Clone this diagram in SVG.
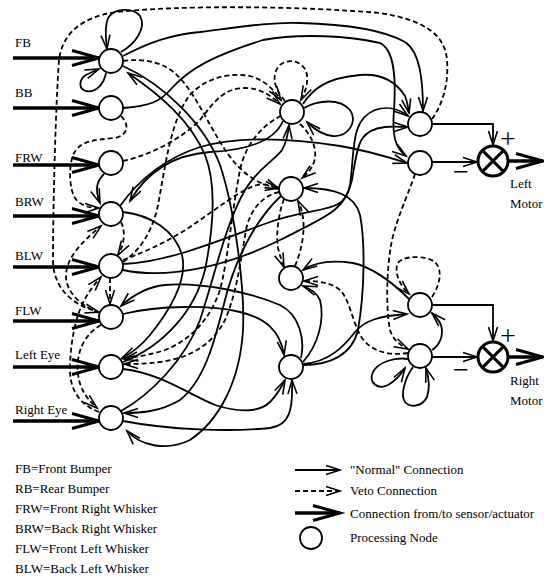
<svg xmlns="http://www.w3.org/2000/svg" width="544" height="580" viewBox="0 0 544 580">
<style>
.c{fill:none;stroke:#000;stroke-width:1.8;marker-end:url(#a)}
.v{stroke-dasharray:5 3}
.t{fill:none;stroke:#000;stroke-width:3.5;marker-end:url(#T)}
.n{fill:#fff;stroke:#000;stroke-width:1.8}
.m{fill:#fff;stroke:#000;stroke-width:3}
text{font-family:"Liberation Serif","Times New Roman",serif;font-size:13px;fill:#000}
.p{font-size:28px}
</style>
<defs>
<marker id="a" markerUnits="userSpaceOnUse" markerWidth="20" markerHeight="14" refX="14" refY="5" orient="auto" overflow="visible"><path d="M0,0.5 L14,5 L0,9.5" fill="none" stroke="#000" stroke-width="1.6"/></marker>
<marker id="T" markerUnits="userSpaceOnUse" markerWidth="30" markerHeight="18" refX="27" refY="8" orient="auto" overflow="visible"><path d="M0,0.5 L27,8 L0,15.5" fill="none" stroke="#000" stroke-width="3"/></marker>
</defs>

<g id="connectors">
<path class="t" d="M13,58 L99,58"/>
<path class="t" d="M13,108 L99,108"/>
<path class="t" d="M13,165 L99,165"/>
<path class="t" d="M13,216 L99,216"/>
<path class="t" d="M13,267 L99,267"/>
<path class="t" d="M13,321 L99,321"/>
<path class="t" d="M13,367 L99,367"/>
<path class="t" d="M13,421 L99,421"/>
<path class="t" d="M509,161 L543,161"/>
<path class="t" d="M509,357 L543,357"/>
<path class="c" d="M121,52 C135,44 147,28 140,16 C133,7 114,8 108,18 C104,28 106,40 107,49"/>
<path class="c" d="M106,73 C104,84 96,93 86,91 C78,89 79,79 86,75 C90,73 94,71 99,69"/>
<path class="c" d="M123,56 C150,42 170,35 200,32 C240,27 270,22 300,23 C340,24 380,28 405,42 C420,52 423,80 423,111"/>
<path class="c" d="M123,108 C150,106 160,102 172,88 C190,68 215,55 263,40 C300,33 350,36 380,43 C395,50 396,80 394,110 C392,135 395,148 406,156"/>
<path class="c" d="M123,66 C165,85 205,125 220,165 C235,210 245,290 243,330 C240,380 220,420 190,440 C165,452 140,445 127,431"/>
<path class="c" d="M123,362 C165,345 195,310 205,270 C215,220 215,180 205,155 C190,120 160,95 128,73"/>
<path class="c" d="M104,174 C96,182 95,190 100,203"/>
<path class="c" d="M123,212 C150,215 175,230 182,255 C188,280 170,310 150,335 C140,347 130,354 122,358"/>
<path class="c" d="M120,206 C135,185 160,160 200,147 C240,136 290,138 340,146 C370,151 390,158 407,163"/>
<path class="c" d="M283,121 C275,140 250,150 210,152 C170,155 145,175 130,201"/>
<path class="c" d="M123,264 C170,262 220,240 270,222 C320,205 345,215 350,185 C355,150 350,120 375,110 C390,105 400,110 408,116"/>
<path class="c" d="M123,270 C170,280 230,265 280,240 C330,215 345,210 352,180 C358,145 358,130 385,127 C395,126 402,127 408,127"/>
<path class="c" d="M123,314 C160,305 210,305 240,312 C265,318 280,330 284,355"/>
<path class="c" d="M301,358 C305,340 300,315 280,305 C250,292 200,282 165,285 C145,287 132,296 121,306"/>
<path class="c" d="M123,369 C160,373 190,395 215,405 C240,413 260,412 270,402 C276,396 280,390 285,380"/>
<path class="c" d="M123,421 C170,430 230,432 270,428 C290,425 293,410 292,380"/>
<path class="c" d="M281,196 C255,220 235,260 225,300 C215,340 205,380 180,400 C160,412 140,413 124,413"/>
<path class="c" d="M121,411 C150,395 185,360 200,320 C215,275 225,225 245,190 C258,168 275,160 282,150 C286,143 288,135 289,125"/>
<path class="c" d="M304,108 C318,100 340,98 350,110 C358,122 348,137 333,136 C322,135 313,128 307,122"/>
<path class="c" d="M303,104 C312,90 325,78 360,75 C385,73 398,85 405,96 C408,103 408,108 409,113"/>
<path class="c" d="M303,365 C330,365 352,355 358,330 C365,290 365,240 360,215 C355,195 335,188 304,188"/>
<path class="c" d="M303,362 C318,345 325,320 320,300 C317,293 311,289 303,286"/>
<path class="c" d="M409,299 C395,285 375,268 353,263 C333,260 315,262 303,270"/>
<path class="c" d="M303,364 C330,362 345,345 355,332 C365,320 380,316 407,314"/>
<path class="c" d="M432,350 C440,345 444,335 441,325 C439,320 436,317 432,313"/>
<path class="c" d="M408,359 C395,357 378,362 373,372 C368,383 378,390 388,385 C395,381 400,376 405,368"/>
<path class="c" d="M413,367 C405,378 400,395 405,402 C410,408 422,407 427,397 C430,388 429,378 426,368"/>
<path class="c" d="M432,124 L493,124 L493,145"/>
<path class="c" d="M432,162 L477,162"/>
<path class="c" d="M432,305 L493,305 L493,341"/>
<path class="c" d="M432,357 L477,357"/>
<path class="c v" d="M432,119 C442,105 449,85 447,60 C445,35 425,20 380,13 C300,6 180,5 117,12 C80,17 62,35 59,60 C56,100 53,200 53,260 C53,290 75,306 99,312"/>
<path class="c v" d="M415,174 C408,195 398,215 392,240 C386,270 386,310 390,330 C393,340 400,345 408,349"/>
<path class="c v" d="M432,297 C440,285 443,270 435,262 C425,255 400,255 397,265 C395,275 400,285 409,294"/>
<path class="c v" d="M408,353 C390,356 372,352 362,338 C352,322 350,300 340,290 C330,282 318,281 304,281"/>
<path class="c v" d="M285,101 C275,90 270,75 280,65 C290,57 305,62 307,75 C308,85 305,92 301,100"/>
<path class="c v" d="M300,124 C312,135 318,150 314,162 C311,170 307,174 302,178"/>
<path class="c v" d="M284,199 C278,215 276,235 278,248 C280,256 282,262 284,267"/>
<path class="c v" d="M295,266 C302,250 305,230 303,218 C302,210 300,205 298,201"/>
<path class="c v" d="M123,61 C145,58 165,62 180,78 C200,100 215,140 235,163 C250,180 265,186 279,188"/>
<path class="c v" d="M123,161 C150,155 180,140 200,120 C215,100 225,88 245,88 C260,88 270,95 280,104"/>
<path class="c v" d="M123,262 C140,250 150,235 157,210 C165,170 170,120 190,95 C205,78 230,72 250,76 C265,80 274,90 281,100"/>
<path class="c v" d="M123,260 C150,250 170,240 190,227 C215,210 240,190 257,185 C265,183 272,186 279,189"/>
<path class="c v" d="M121,116 C130,125 128,135 115,138 C95,140 80,140 73,155 C68,170 70,190 75,198 C80,205 88,208 99,208"/>
<path class="c v" d="M121,222 C126,232 124,245 118,255"/>
<path class="c v" d="M110,278 L110,304"/>
<path class="c v" d="M99,313 C80,305 66,292 66,276 C66,260 78,245 101,226"/>
<path class="c v" d="M101,325 C88,332 80,345 78,360 C76,380 82,395 97,408"/>
<path class="c v" d="M99,412 C80,405 70,390 70,370 C70,345 75,320 82,305 C88,292 94,285 101,277"/>
<path class="c v" d="M281,116 C262,125 245,145 240,170 C232,210 228,260 220,290 C210,320 190,340 165,350 C150,355 135,357 124,359"/>
<path class="c v" d="M279,192 C262,196 250,210 246,230 C240,265 236,295 225,320 C212,345 190,358 160,362 C145,364 135,364 124,364"/>
<path class="c" d="M295,470 L340,470"/>
<path class="c v" d="M295,491 L340,491"/>
<path class="t" d="M295,513 L340,513"/>
</g>

<g id="node-FB"><circle class="n" cx="111" cy="61" r="12"/></g>
<g id="node-BB"><circle class="n" cx="111" cy="108" r="12"/></g>
<g id="node-FRW"><circle class="n" cx="111" cy="163" r="12"/></g>
<g id="node-BRW"><circle class="n" cx="111" cy="214" r="12"/></g>
<g id="node-BLW"><circle class="n" cx="111" cy="266" r="12"/></g>
<g id="node-FLW"><circle class="n" cx="111" cy="317" r="12"/></g>
<g id="node-LeftEye"><circle class="n" cx="111" cy="367" r="12"/></g>
<g id="node-RightEye"><circle class="n" cx="111" cy="418" r="12"/></g>
<g id="node-M1"><circle class="n" cx="292" cy="112" r="12"/></g>
<g id="node-M2"><circle class="n" cx="291" cy="189" r="12"/></g>
<g id="node-M3"><circle class="n" cx="291" cy="278" r="12"/></g>
<g id="node-M4"><circle class="n" cx="291" cy="367" r="12"/></g>
<g id="node-R1"><circle class="n" cx="420" cy="124" r="12"/></g>
<g id="node-R2"><circle class="n" cx="420" cy="163" r="12"/></g>
<g id="node-R3"><circle class="n" cx="420" cy="305" r="12"/></g>
<g id="node-R4"><circle class="n" cx="420" cy="356" r="12"/></g>
<g id="node-LeftMotor">
<circle class="m" cx="493" cy="161" r="15"/>
<path class="m" d="M482.4,150.4 L503.6,171.6 M503.6,150.4 L482.4,171.6"/>
<text class="p" x="508" y="148" text-anchor="middle">+</text>
<text class="p" x="461" y="181" text-anchor="middle">−</text>
<text x="510" y="188">Left</text>
<text x="510" y="208">Motor</text>
</g>
<g id="node-RightMotor">
<circle class="m" cx="493" cy="357" r="15"/>
<path class="m" d="M482.4,346.4 L503.6,367.6 M503.6,346.4 L482.4,367.6"/>
<text class="p" x="508" y="345" text-anchor="middle">+</text>
<text class="p" x="461" y="379" text-anchor="middle">−</text>
<text x="510" y="385">Right</text>
<text x="510" y="405">Motor</text>
</g>

<g id="labels">
<text x="15" y="47">FB</text>
<text x="15" y="97">BB</text>
<text x="15" y="162">FRW</text>
<text x="15" y="206">BRW</text>
<text x="15" y="260">BLW</text>
<text x="15" y="315">FLW</text>
<text x="15" y="359">Left Eye</text>
<text x="15" y="414">Right Eye</text>
</g>

<g id="legend">
<text x="15" y="473">FB=Front Bumper</text>
<text x="15" y="493">RB=Rear Bumper</text>
<text x="15" y="513">FRW=Front Right Whisker</text>
<text x="15" y="533">BRW=Back Right Whisker</text>
<text x="15" y="553">FLW=Front Left Whisker</text>
<text x="15" y="573">BLW=Back Left Whisker</text>
<text x="350" y="474">"Normal" Connection</text>
<text x="350" y="495">Veto Connection</text>
<text x="350" y="518">Connection from/to sensor/actuator</text>
<circle class="n" cx="311" cy="538" r="11"/>
<text x="350" y="542">Processing Node</text>
</g>
</svg>
